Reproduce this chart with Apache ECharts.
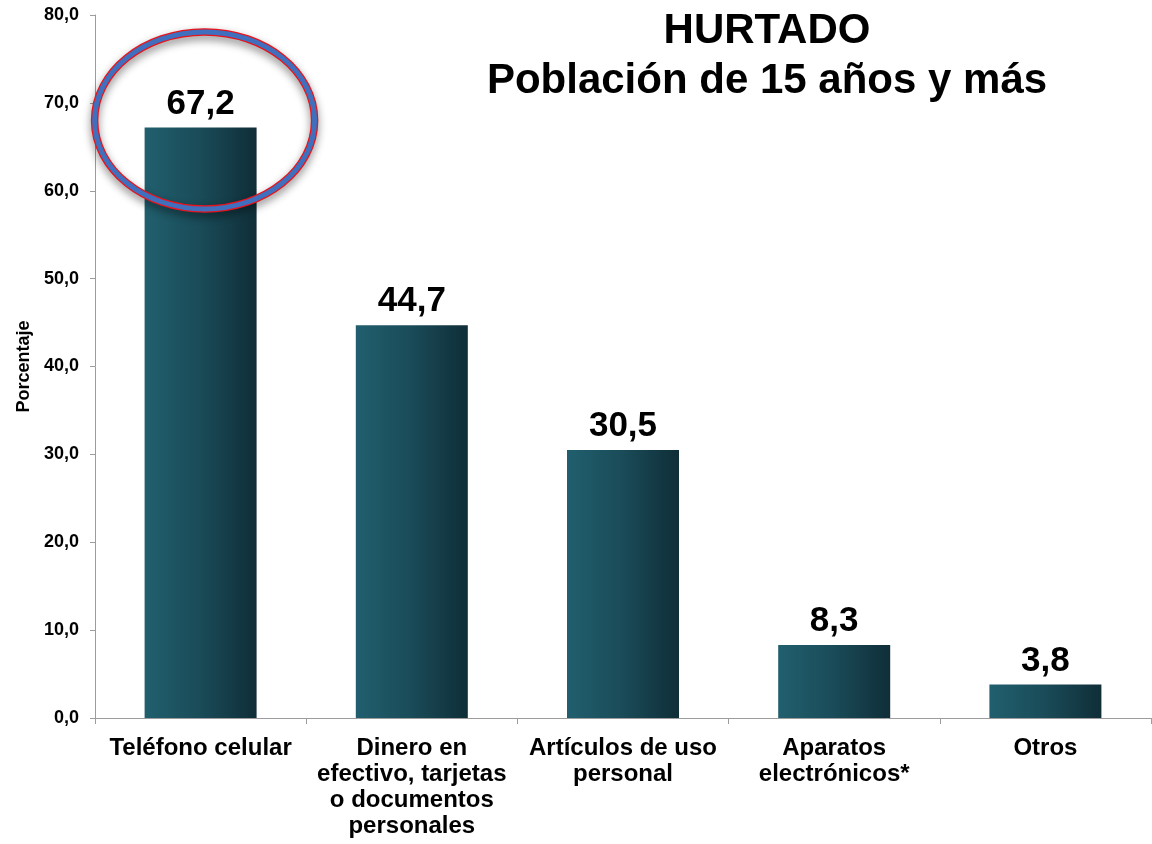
<!DOCTYPE html>
<html>
<head>
<meta charset="utf-8">
<script src="https://cdn.jsdelivr.net/npm/echarts@6/dist/echarts.min.js"></script>
<style>
  html, body { margin: 0; padding: 0; background: #fff; }
  #chart { width: 1152px; height: 844px; }
</style>
</head>
<body>
<div id="chart"></div>
<script>
var categories = [
    'Teléfono celular',
    'Dinero en\nefectivo, tarjetas\no documentos\npersonales',
    'Artículos de uso\npersonal',
    'Aparatos\nelectrónicos*',
    'Otros'
];
var values = [67.2, 44.7, 30.5, 8.3, 3.8];
var titleLines = ['HURTADO', 'Población de 15 años y más'];
var axisName = 'Porcentaje';

var font = '"Liberation Sans", Arial, sans-serif';
var axisGray = '#9c9c9c';

function comma(v) {
    return v.toFixed(1).replace('.', ',');
}

var chart = echarts.init(document.getElementById('chart'));

var option = {
    backgroundColor: '#fff',
    animation: false,
    grid: {
        left: 95,
        right: 1,
        top: 15,
        bottom: 126
    },
    xAxis: {
        type: 'category',
        data: categories,
        axisLine: { lineStyle: { color: axisGray, width: 1 } },
        axisTick: { show: true, length: 6, lineStyle: { color: axisGray } },
        axisLabel: {
            interval: 0,
            margin: 17,
            color: '#000',
            fontFamily: font,
            fontWeight: 'bold',
            fontSize: 24,
            lineHeight: 26,
            align: 'center'
        }
    },
    yAxis: {
        type: 'value',
        min: 0,
        max: 80,
        interval: 10,
        name: axisName,
        nameLocation: 'middle',
        nameRotate: 90,
        nameGap: 61,
        nameTextStyle: {
            color: '#000',
            fontFamily: font,
            fontWeight: 'bold',
            fontSize: 18
        },
        axisLine: { show: true, lineStyle: { color: axisGray, width: 1 } },
        axisTick: { show: true, length: 5, lineStyle: { color: axisGray } },
        splitLine: { show: false },
        axisLabel: {
            margin: 16,
            color: '#000',
            fontFamily: font,
            fontWeight: 'bold',
            fontSize: 18,
            formatter: function (v) { return comma(v); }
        }
    },
    series: [
        {
            type: 'bar',
            data: values,
            barWidth: 112,
            itemStyle: {
                color: new echarts.graphic.LinearGradient(0, 0, 1, 0, [
                    { offset: 0, color: '#215f6e' },
                    { offset: 0.5, color: '#1a4b58' },
                    { offset: 1, color: '#0f2e38' }
                ])
            },
            label: {
                show: true,
                position: 'top',
                distance: 6,
                color: '#000',
                fontFamily: font,
                fontWeight: 'bold',
                fontSize: 35,
                formatter: function (p) { return comma(p.value); }
            }
        }
    ]
};

chart.setOption(option);

// highlight ring around the first bar's label
var c = chart.convertToPixel({ xAxisIndex: 0, yAxisIndex: 0 }, [categories[0], 68]);
var cx = c[0] + 4;
var cy = c[1];

chart.setOption({
    graphic: [
        {
            type: 'text',
            x: 767,
            y: 31,
            style: {
                text: titleLines[0],
                align: 'center',
                verticalAlign: 'middle',
                fill: '#000',
                font: 'bold 42px ' + font
            }
        },
        {
            type: 'text',
            x: 767,
            y: 81,
            style: {
                text: titleLines[1],
                align: 'center',
                verticalAlign: 'middle',
                fill: '#000',
                font: 'bold 42px ' + font
            }
        },
        {
            type: 'ellipse',
            shape: { cx: cx, cy: cy, rx: 110, ry: 88.5 },
            style: {
                fill: null,
                stroke: '#e8141c',
                lineWidth: 7.5,
                shadowBlur: 8,
                shadowOffsetY: 4,
                shadowColor: 'rgba(0,0,0,0.45)'
            },
            z: 100
        },
        {
            type: 'ellipse',
            shape: { cx: cx, cy: cy, rx: 110, ry: 88.5 },
            style: {
                fill: null,
                stroke: '#3f6fbd',
                lineWidth: 5
            },
            z: 101
        }
    ]
});
</script>
</body>
</html>
